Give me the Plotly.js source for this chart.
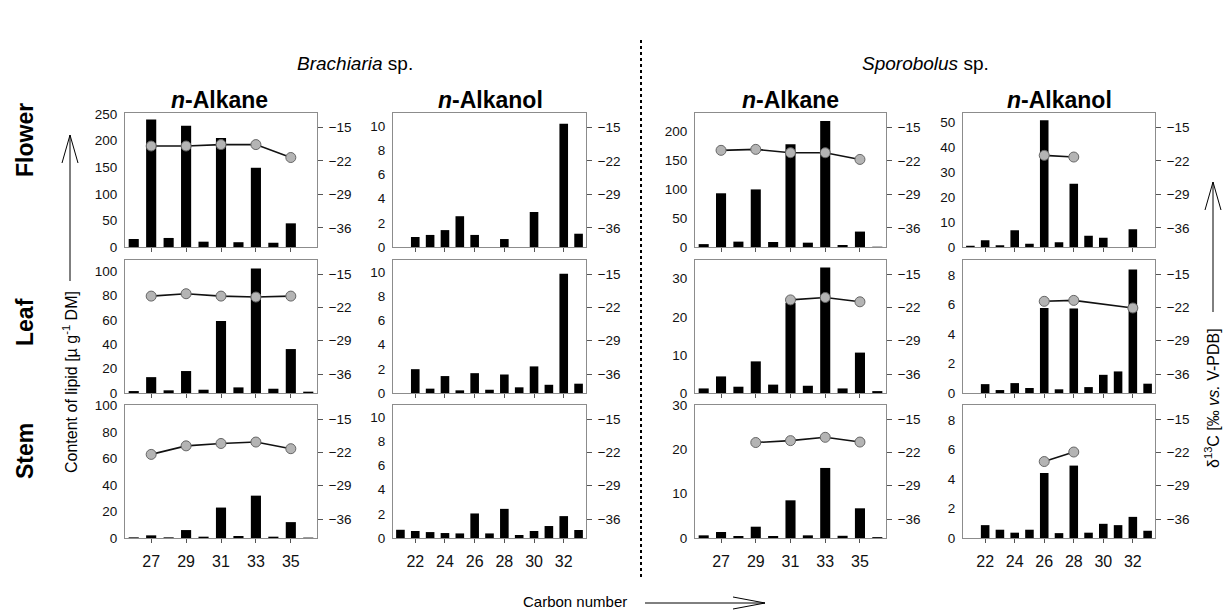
<!DOCTYPE html>
<html>
<head>
<meta charset="utf-8">
<script src="https://cdn.plot.ly/plotly-3.0.1.min.js"></script>
<style>
html,body{margin:0;padding:0;background:#fff;}
#chart{width:1224px;height:610px;}
</style>
</head>
<body>
<div id="chart"></div>
<script>
// ---- categories ----
const alkaneCarbon = [26, 27, 28, 29, 30, 31, 32, 33, 34, 35, 36];
const alkanolCarbon = [21, 22, 23, 24, 25, 26, 27, 28, 29, 30, 31, 32, 33];
const alkaneTicks = [27, 29, 31, 33, 35];
const alkanolTicks = [22, 24, 26, 28, 30, 32];
const d13CTicks = [-15, -22, -29, -36];

// ---- Brachiaria sp. content [µg/g DM] ----
const brachAlkaneFlower = [15, 240, 17, 228, 10, 205, 9, 149, 8, 44.5, null];
const brachAlkaneLeaf = [1.6, 13, 2.2, 18, 2.7, 59, 4.6, 102, 3.5, 36, 1.1];
const brachAlkaneStem = [0.5, 2, 0.5, 6, 1, 23, 1.5, 32, 1, 12, 0.3];
const brachAlkanolFlower = [null, 0.83, 1.0, 1.4, 2.55, 1.0, null, 0.66, null, 2.9, null, 10.2, 1.1];
const brachAlkanolLeaf = [null, 1.97, 0.36, 1.4, 0.22, 1.64, 0.27, 1.53, 0.47, 2.2, 0.68, 9.86, 0.77];
const brachAlkanolStem = [0.68, 0.58, 0.49, 0.41, 0.38, 2.03, 0.38, 2.41, 0.25, 0.58, 0.99, 1.81, 0.66];

// ---- Sporobolus sp. content [µg/g DM] ----
const sporoAlkaneFlower = [5, 93, 9.3, 99.7, 8.7, 178, 7.5, 218, 3.5, 26.7, 0.5];
const sporoAlkaneLeaf = [1.2, 4.35, 1.65, 8.3, 2.2, 23.7, 1.9, 32.9, 1.2, 10.6, 0.5];
const sporoAlkaneStem = [0.6, 1.35, 0.45, 2.55, 0.45, 8.5, 0.6, 15.8, 0.5, 6.7, 0.2];
const sporoAlkanolFlower = [0.5, 2.7, 0.7, 6.7, 1.3, 50.7, 1.9, 25.3, 4.5, 3.7, null, 7.1, null];
const sporoAlkanolLeaf = [null, 0.6, 0.2, 0.67, 0.34, 5.76, 0.25, 5.72, 0.4, 1.23, 1.46, 8.36, 0.63];
const sporoAlkanolStem = [null, 0.87, 0.56, 0.36, 0.56, 4.4, 0.33, 4.9, 0.36, 0.96, 0.87, 1.43, 0.49];

// ---- δ13C values [‰ vs. V-PDB] ----
const brachAlkaneFlowerC = [27, 29, 31, 33, 35];
const brachAlkaneFlowerD13C = [-18.9, -18.9, -18.6, -18.6, -21.3];
const brachAlkaneLeafC = [27, 29, 31, 33, 35];
const brachAlkaneLeafD13C = [-19.6, -19.1, -19.6, -19.8, -19.6];
const brachAlkaneStemC = [27, 29, 31, 33, 35];
const brachAlkaneStemD13C = [-22.4, -20.6, -20.1, -19.8, -21.2];
const sporoAlkaneFlowerC = [27, 29, 31, 33, 35];
const sporoAlkaneFlowerD13C = [-19.8, -19.6, -20.3, -20.3, -21.7];
const sporoAlkaneLeafC = [31, 33, 35];
const sporoAlkaneLeafD13C = [-20.4, -19.9, -20.8];
const sporoAlkaneStemC = [29, 31, 33, 35];
const sporoAlkaneStemD13C = [-19.9, -19.5, -18.8, -19.8];
const sporoAlkanolFlowerC = [26, 28];
const sporoAlkanolFlowerD13C = [-20.85, -21.2];
const sporoAlkanolLeafC = [26, 28, 32];
const sporoAlkanolLeafD13C = [-20.7, -20.5, -22.1];
const sporoAlkanolStemC = [26, 28];
const sporoAlkanolStemD13C = [-23.9, -21.9];

// ---- panel definitions (row-major) ----
const panels = [
  {bars: brachAlkaneFlower, cat: alkaneCarbon, ticks: alkaneTicks, yr: [0, 252], yt: [0, 50, 100, 150, 200, 250], lx: brachAlkaneFlowerC, ly: brachAlkaneFlowerD13C},
  {bars: brachAlkanolFlower, cat: alkanolCarbon, ticks: alkanolTicks, yr: [0, 11.1], yt: [0, 2, 4, 6, 8, 10]},
  {bars: sporoAlkaneFlower, cat: alkaneCarbon, ticks: alkaneTicks, yr: [0, 232], yt: [0, 50, 100, 150, 200], lx: sporoAlkaneFlowerC, ly: sporoAlkaneFlowerD13C},
  {bars: sporoAlkanolFlower, cat: alkanolCarbon, ticks: alkanolTicks, yr: [0, 53.6], yt: [0, 10, 20, 30, 40, 50], lx: sporoAlkanolFlowerC, ly: sporoAlkanolFlowerD13C},
  {bars: brachAlkaneLeaf, cat: alkaneCarbon, ticks: alkaneTicks, yr: [0, 109], yt: [0, 20, 40, 60, 80, 100], lx: brachAlkaneLeafC, ly: brachAlkaneLeafD13C},
  {bars: brachAlkanolLeaf, cat: alkanolCarbon, ticks: alkanolTicks, yr: [0, 11], yt: [0, 2, 4, 6, 8, 10]},
  {bars: sporoAlkaneLeaf, cat: alkaneCarbon, ticks: alkaneTicks, yr: [0, 34.9], yt: [0, 10, 20, 30], lx: sporoAlkaneLeafC, ly: sporoAlkaneLeafD13C},
  {bars: sporoAlkanolLeaf, cat: alkanolCarbon, ticks: alkanolTicks, yr: [0, 9], yt: [0, 2, 4, 6, 8], lx: sporoAlkanolLeafC, ly: sporoAlkanolLeafD13C},
  {bars: brachAlkaneStem, cat: alkaneCarbon, ticks: alkaneTicks, yr: [0, 100.5], yt: [0, 20, 40, 60, 80, 100], lx: brachAlkaneStemC, ly: brachAlkaneStemD13C},
  {bars: brachAlkanolStem, cat: alkanolCarbon, ticks: alkanolTicks, yr: [0, 11], yt: [0, 2, 4, 6, 8, 10]},
  {bars: sporoAlkaneStem, cat: alkaneCarbon, ticks: alkaneTicks, yr: [0, 30], yt: [0, 10, 20, 30], lx: sporoAlkaneStemC, ly: sporoAlkaneStemD13C},
  {bars: sporoAlkanolStem, cat: alkanolCarbon, ticks: alkanolTicks, yr: [0, 9], yt: [0, 2, 4, 6, 8], lx: sporoAlkanolStemC, ly: sporoAlkanolStemD13C}
];

const W = 1224, H = 610;
const px = x => x / W;
const py = y => 1 - y / H;
const colPx = [[125, 317], [393, 586], [695, 886], [963, 1155]];
const rowPx = [[113, 247], [260, 393], [405, 538]];

const FONT = 'Liberation Sans, Arial, sans-serif';
const frameColor = '#8c8c8c';
const data = [];
const layout = {
  width: W, height: H,
  margin: {l: 0, r: 0, t: 0, b: 0},
  paper_bgcolor: '#fff', plot_bgcolor: 'rgba(0,0,0,0)',
  showlegend: false,
  font: {family: FONT, color: '#111'},
  annotations: [], shapes: []
};

panels.forEach((p, i) => {
  const r = Math.floor(i / 4), c = i % 4;
  const xn = i + 1, yl = 2 * i + 1, yr = 2 * i + 2;
  const xk = xn === 1 ? 'xaxis' : 'xaxis' + xn;
  const ylk = yl === 1 ? 'yaxis' : 'yaxis' + yl;
  const yrk = 'yaxis' + yr;
  const xid = xn === 1 ? 'x' : 'x' + xn;
  const ylid = yl === 1 ? 'y' : 'y' + yl;
  const yrid = 'y' + yr;
  const first = p.cat[0], last = p.cat[p.cat.length - 1];
  layout[xk] = {
    domain: [px(colPx[c][0]), px(colPx[c][1])],
    range: [first - 0.5, last + 0.5],
    anchor: ylid,
    tickvals: p.ticks, ticktext: p.ticks.map(String),
    showticklabels: r === 2,
    ticks: 'outside', ticklen: 4, tickcolor: '#555', tickwidth: 1,
    showline: true, linecolor: frameColor, linewidth: 1, mirror: true,
    showgrid: false, zeroline: false,
    tickfont: {size: 16, family: FONT, color: '#111'},
    ticklabelstandoff: 5,
    fixedrange: true
  };
  layout[ylk] = {
    domain: [py(rowPx[r][1]), py(rowPx[r][0])],
    range: p.yr, anchor: xid,
    tickvals: p.yt,
    ticks: '', showline: true, linecolor: frameColor, linewidth: 1, mirror: true,
    showgrid: false, zeroline: false,
    tickfont: {size: 13.5, family: FONT, color: '#111'},
    ticklabelstandoff: 4,
    fixedrange: true
  };
  layout[yrk] = {
    overlaying: ylid, side: 'right', anchor: xid,
    range: [-40, -12], tickvals: d13CTicks,
    ticks: 'outside', ticklen: 5, tickcolor: '#555', tickwidth: 1,
    showline: false, showgrid: false, zeroline: false,
    tickfont: {size: 13.5, family: FONT, color: '#111'},
    ticklabelstandoff: 3,
    fixedrange: true
  };
  data.push({
    type: 'bar', x: p.cat, y: p.bars, xaxis: xid, yaxis: ylid,
    width: 0.58, marker: {color: '#000', line: {width: 0}},
    hoverinfo: 'x+y'
  });
  if (p.lx) {
    data.push({
      type: 'scatter', mode: 'lines+markers', x: p.lx, y: p.ly,
      xaxis: xid, yaxis: yrid,
      line: {color: '#111', width: 1.6},
      marker: {color: '#b4b4b4', size: 10, line: {color: '#666', width: 1}}
    });
  } else {
    data.push({type: 'scatter', mode: 'markers', x: [], y: [], xaxis: xid, yaxis: yrid});
  }
});

function ann(text, x, y, size, extra) {
  layout.annotations.push(Object.assign({
    text: text, x: px(x), y: py(y), xref: 'paper', yref: 'paper',
    showarrow: false, xanchor: 'center', yanchor: 'middle',
    font: {family: FONT, size: size, color: '#000'}
  }, extra || {}));
}

ann('<i>Brachiaria</i> sp.', 355, 63, 19);
ann('<i>Sporobolus</i> sp.', 925, 63, 19);
ann('<b><i>n</i>-Alkane</b>', 219, 100, 23);
ann('<b><i>n</i>-Alkanol</b>', 490, 100, 23);
ann('<b><i>n</i>-Alkane</b>', 790, 100, 23);
ann('<b><i>n</i>-Alkanol</b>', 1059, 100, 23);
ann('<b>Flower</b>', 25, 140, 23, {textangle: -90});
ann('<b>Leaf</b>', 25, 322, 23, {textangle: -90});
ann('<b>Stem</b>', 25, 451, 23, {textangle: -90});
ann('Content of lipid [µ g<sup>-1</sup> DM]', 70, 382, 16, {textangle: -90});
ann('δ<sup>13</sup>C [‰ <i>vs.</i> V-PDB]', 1212, 398, 16, {textangle: -90});
ann('Carbon number', 575, 601, 15);

function seg(x0, y0, x1, y1, extra) {
  layout.shapes.push(Object.assign({
    type: 'line', xref: 'paper', yref: 'paper',
    x0: px(x0), y0: py(y0), x1: px(x1), y1: py(y1),
    line: {color: '#000', width: 1}
  }, extra || {}));
}
// vertical dotted divider
seg(641, 40, 641, 578, {line: {color: '#000', width: 2, dash: 'dot'}});
// left arrow
seg(70, 281, 70, 135);
seg(62, 163, 70, 135);
seg(78, 163, 70, 135);
// right arrow
seg(1213, 312, 1213, 182);
seg(1205, 210, 1213, 182);
seg(1221, 210, 1213, 182);
// bottom arrow
seg(645, 603, 765, 603);
seg(733, 597, 765, 603);
seg(733, 609, 765, 603);

Plotly.newPlot('chart', data, layout, {staticPlot: true, displayModeBar: false});
</script>
</body>
</html>
